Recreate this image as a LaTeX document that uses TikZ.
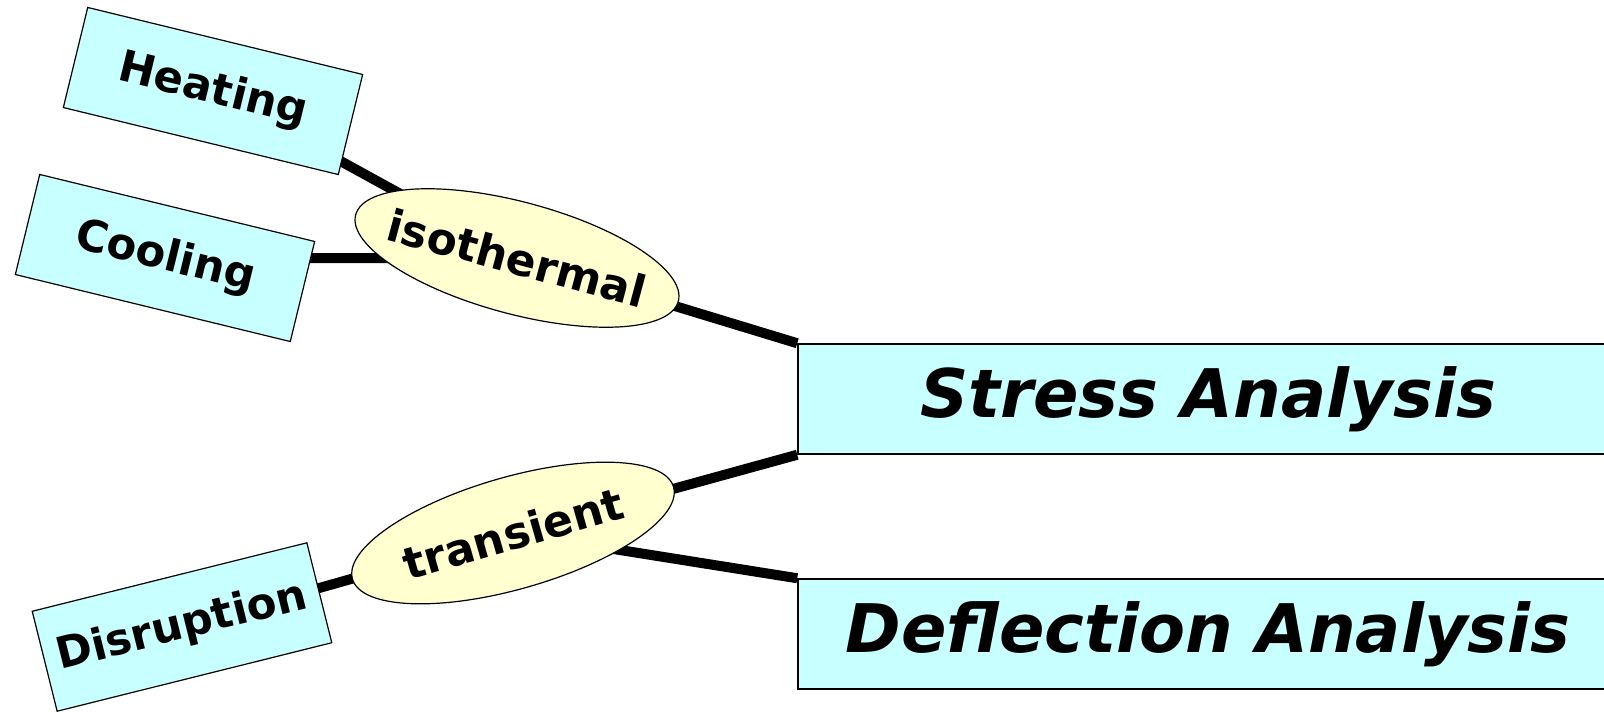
\documentclass[tikz,border=0pt]{standalone}
\usepackage{fontspec}
\setmainfont{DejaVu Sans}
\usepackage{xcolor}
\usetikzlibrary{shapes.geometric,backgrounds}

\definecolor{boxcyan}{RGB}{200,255,255}
\definecolor{ovalyellow}{RGB}{255,255,208}

\begin{document}
\begin{tikzpicture}[x=1pt,y=-1pt,
        leaf/.style={draw,fill=boxcyan,line width=1.2pt,minimum width=283pt,minimum height=103pt,inner sep=0pt,font=\fontsize{43.5}{48}\selectfont\bfseries},
        oval/.style={ellipse,draw,fill=ovalyellow,line width=1.2pt,minimum width=334pt,minimum height=112pt,inner sep=0pt,inner xsep=-24pt,font=\fontsize{44}{48}\selectfont\bfseries},
        task/.style={draw,fill=boxcyan,line width=1.5pt,minimum width=820pt,minimum height=110pt,font=\fontsize{67}{72}\selectfont\bfseries\itshape},
        link/.style={line width=10pt}]
            \useasboundingbox (0,0) rectangle (1604,712);
            \clip (0,0) rectangle (1604,712);

            \node (heat) at (213,91) [leaf,rotate=-13.7] {Heating};
            \node (cool) at (165,258) [leaf,rotate=-13.7] {Cooling};
            \node (disr) at (182,627) [leaf,rotate=14] {Disruption};

            \node (iso) at (517,258) [oval,rotate=-15] {isothermal};
            \node (trans) at (513,533) [oval,rotate=16] {transient};

            \node (stress) at (1208,399) [task] {Stress Analysis};
            \node (defl) at (1208,634) [task] {Deflection Analysis};

            \begin{scope}[on background layer]
            \draw[link] (heat.center) -- (iso.center) (cool.center) -- (iso.center) (disr.center) -- (trans.center);
            \draw[link] (iso.center) -- (stress.north west) (trans.center) -- (stress.south west) (trans.center) -- (defl.north west);
            \end{scope}

        \end{tikzpicture}
\end{document}
